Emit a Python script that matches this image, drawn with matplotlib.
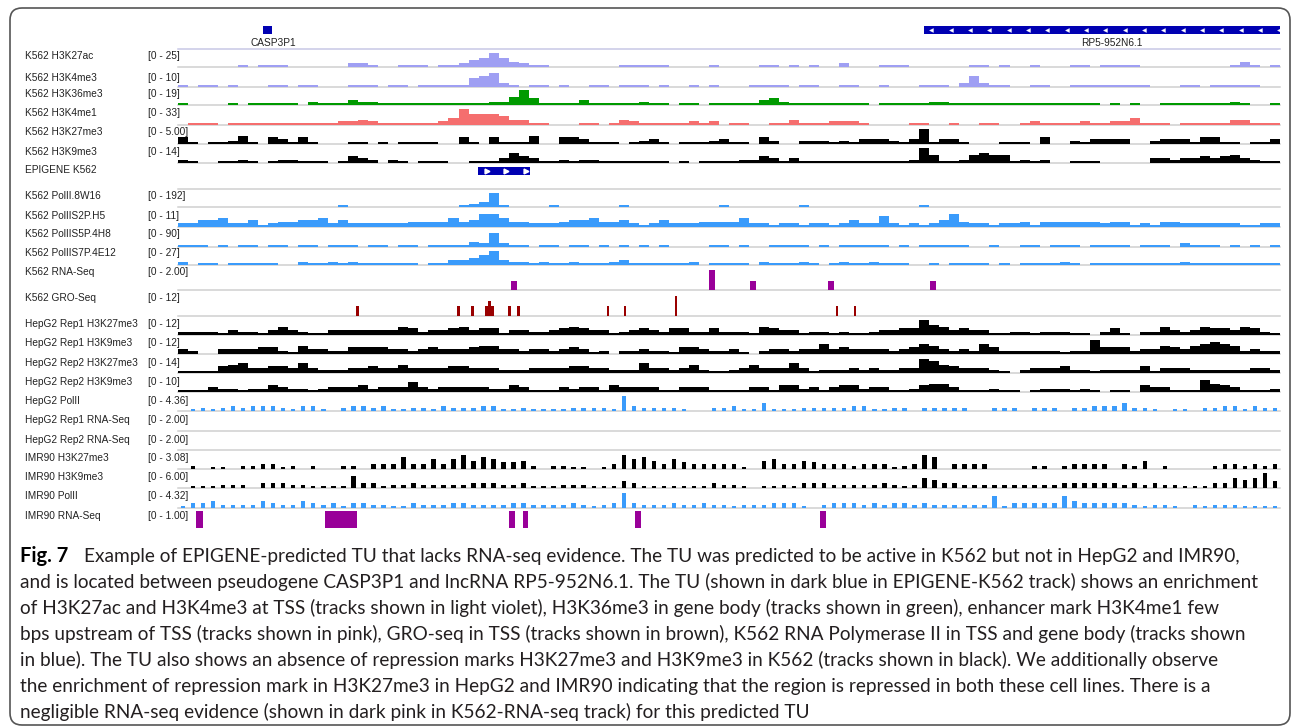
import numpy as np
import matplotlib.pyplot as plt
from matplotlib.patches import FancyBboxPatch, Rectangle

# ---- data -------------------------------------------------------------
# coverage tracks: 110 equal bins across the locus, signal given in tenths
# of each track's data range
n_bins = 110

k562_h3k27ac = [0,0,0,0,0,0,1,0,1,1, 1,0,0,0,0,0,0,2,2,1, 0,0,1,1,1,0,1,1,2,4,
                5,8,5,3,2,1,1,0,0,0, 0,0,0,0,1,1,1,1, 1,0,0,0,0,1,0,0,0,0,
                1,1,0,1,0,1,0,0,2,0, 0,0,1,1,1,0,0,0,0,0, 0,1,1,0,1,0,0,1,0,0,
                0,1,1,0,1,1,1,1,0,0, 0,0,0,0,0,0,0,1,3,1,0,1]
k562_h3k4me3 = [1,0,1,1,0,1,0,0,0,1, 1,0,1,1,0,0,0,1,1,1, 0,1,1,0,1,1,1,1,1,5,
                6,8,2,1,0,1,1,0,1,0, 0,1,1,0,1,1,1,0, 1,0,0,1,0,1,0,0,0,1,
                1,1,1,0,1,1,0,0,1,1, 0,0,1,0,0,0,1,1,1,0, 2,6,2,1,1,0,0,1,1,0,
                0,1,1,1,1,1,1,1,1,0, 0,0,1,1,0,1,1,1,1,1,0,0]
k562_h3k36me3 = [1,0,0,0,0,1,0,1,1,1, 1,1,0,2,1,1,1,3,2,2, 1,1,1,1,1,1,1,1,1,1,
                 1,2,2,5,9,4,1,1,1,1, 3,1,1,1,1,1,2,1, 1,0,1,1,0,1,1,1,1,1,
                 3,4,2,1,1,1,1,1,1,1, 1,0,1,1,1,1,1,2,2,1, 1,1,1,1,1,1,1,1,1,1,
                 1,1,1,1,0,1,0,1,0,0, 1,1,1,1,1,1,1,2,1,0,0,1]
k562_h3k4me1 = [0,1,1,1,0,1,1,1,1,1, 1,1,1,1,1,1,2,2,3,2, 1,1,1,1,1,1,2,4,9,6,
                6,6,5,3,3,1,1,0,0,0, 1,1,0,1,3,2,1,1, 1,1,1,2,1,2,0,1,1,0,
                0,1,1,3,1,1,1,2,2,2, 1,0,0,0,0,1,1,0,0,1, 0,0,1,1,0,0,1,2,1,1,
                1,1,2,1,1,2,2,4,1,1, 1,0,1,1,1,1,1,3,3,1,1,1]
k562_h3k27me3 = [4,1,0,1,1,2,5,1,0,4, 3,1,4,1,0,0,0,1,1,0, 1,0,1,1,1,1,0,0,4,1,
                 0,4,1,1,1,5,0,0,4,4, 3,1,1,1,0,1,2,3, 1,0,1,1,1,2,3,1,1,0,
                 4,2,0,0,2,2,2,1,2,1, 3,3,3,2,1,3,9,1,3,3, 1,0,0,0,1,1,1,0,4,0,
                 0,2,1,3,3,3,3,0,0,2, 3,3,3,1,4,4,1,1,0,1,1,3]
k562_h3k9me3 = [2,1,0,0,1,1,2,1,0,1, 2,2,1,1,1,0,1,4,3,2, 0,2,1,0,1,1,1,0,0,1,
                1,1,3,6,4,3,1,1,2,1, 2,2,1,1,1,1,1,1, 1,0,1,0,1,1,1,1,2,2,
                4,3,1,3,1,1,1,1,1,1, 1,1,1,1,1,2,9,5,1,1, 2,5,6,5,5,1,2,1,2,0,
                0,1,1,1,0,0,0,0,0,3, 3,2,3,3,4,3,4,5,3,2,1,1]
k562_polii_8w16 = [0,0,0,0,0,0,0,0,0,0, 0,0,0,0,0,0,1,0,0,0, 0,0,0,0,0,0,0,0,1,2,
                   3,8,1,0,0,0,0,1,0,0, 0,0,0,0,1,0,0,0, 0,0,0,0,0,0,1,0,0,0,
                   0,0,0,0,1,0,0,0,0,0, 0,0,0,0,0,0,1,0,0,0, 0,0,0,0,0,0,0,0,0,0,
                   0,0,0,0,0,0,0,0,0,0, 0,0,0,0,0,0,0,0,0,0,0,0]
k562_polii_s2p = [2,2,4,4,5,2,2,4,1,2, 3,3,4,4,5,2,4,2,2,2, 2,2,2,3,3,3,3,5,3,4,
                  7,7,5,3,3,2,2,2,3,4, 4,5,3,3,4,2,1,2, 4,2,2,2,3,3,3,3,5,2,
                  2,1,2,2,1,2,2,1,2,4, 2,2,6,2,1,2,1,2,4,7, 3,2,2,1,2,2,3,1,3,3,
                  3,3,3,3,2,3,3,1,2,1, 3,3,2,2,2,2,2,2,1,1,2,2]
k562_polii_s5p = [1,1,1,0,1,0,1,1,0,1, 1,0,1,1,0,1,1,1,0,1, 1,0,1,1,0,1,1,1,1,3,
                  2,8,2,1,1,0,1,1,0,1, 1,0,1,0,1,0,1,0, 1,0,0,0,0,1,1,0,1,0,
                  0,1,1,1,1,0,1,0,1,1, 1,1,1,0,1,0,1,1,1,1, 1,0,0,1,0,0,1,1,0,1,
                  1,1,0,1,1,1,1,0,1,1, 1,0,2,1,1,1,0,1,0,1,0,1]
k562_polii_s7p = [2,0,1,1,0,1,1,1,1,1, 0,0,2,1,1,2,1,2,1,1, 1,1,1,1,0,1,1,3,3,4,
                  6,8,3,2,2,1,2,1,1,2, 1,1,1,2,3,1,1,1, 1,1,1,2,0,1,1,1,1,0,
                  2,1,1,1,2,1,0,1,2,1, 1,2,1,1,1,0,0,1,0,1, 1,1,1,0,1,0,1,1,1,1,
                  2,1,0,1,1,1,1,1,1,1, 1,1,2,1,1,1,1,1,1,1,1,1]
hepg2_r1_h3k27me3 = [2,2,2,2,1,3,2,2,1,3, 5,3,2,1,1,3,3,3,3,3, 3,3,5,4,2,3,3,4,5,3,
                     4,4,1,3,3,2,2,3,4,5, 4,3,3,1,2,3,4,3, 2,4,4,2,2,4,2,2,2,1,
                     5,4,3,3,1,2,2,1,2,1, 1,2,3,3,4,4,9,6,5,3, 4,3,3,1,1,2,2,1,2,2,
                     2,1,1,0,2,4,1,0,2,2, 5,3,2,3,5,4,4,3,5,4,2,1]
hepg2_r1_h3k9me3 = [3,2,0,0,3,3,3,3,4,4, 2,1,5,3,3,2,2,4,4,4, 4,3,3,2,3,4,3,3,3,4,
                    5,5,3,3,2,3,3,2,3,4, 3,1,2,0,2,2,3,2, 2,1,4,4,3,2,2,3,1,0,
                    2,3,3,2,3,3,6,3,4,3, 3,3,3,2,3,4,6,5,3,2, 3,2,6,4,2,2,2,2,2,2,
                    1,2,2,8,4,4,4,2,3,3, 5,4,3,5,6,7,6,5,2,3,2,2]
hepg2_r2_h3k27me3 = [1,1,1,1,4,5,6,3,3,4, 4,3,6,3,2,2,2,3,3,4, 3,3,5,3,3,3,3,4,4,3,
                     3,3,2,2,2,3,3,3,3,4, 4,3,3,2,2,2,6,3, 3,2,3,5,2,1,1,2,3,5,
                     3,3,3,6,3,1,2,2,2,3, 2,3,2,2,3,3,8,7,5,4, 3,3,3,2,1,0,2,3,3,3,
                     4,2,2,1,2,2,2,2,4,1, 3,3,3,2,2,2,2,2,2,3,3,2]
hepg2_r2_h3k9me3 = [1,1,1,3,2,2,1,2,2,4, 3,2,2,1,2,3,3,3,4,2, 3,3,3,6,3,2,3,3,3,3,
                    3,2,2,4,3,1,1,1,3,2, 3,3,1,4,3,3,3,3, 1,1,3,3,3,1,1,1,1,3,
                    3,1,4,4,2,3,1,3,4,4, 2,3,3,1,1,2,4,5,5,3, 1,1,1,2,1,1,0,1,2,2,
                    2,1,2,1,0,1,1,0,4,3, 3,1,1,1,7,5,4,3,1,1,1,2]
hepg2_polii = [0,1,2,1,2,3,2,3,3,3, 2,1,3,3,1,0,2,3,3,2, 3,1,1,2,2,1,3,2,2,2,
               3,3,1,1,2,1,1,1,1,2, 2,2,2,1,9,3,2,2, 2,2,1,0,0,2,2,3,1,1,
               5,1,1,1,2,2,2,2,2,3, 3,1,1,2,2,0,2,2,2,2, 2,0,0,2,2,2,0,2,2,2,
               0,2,2,3,3,3,5,2,2,1, 0,1,1,0,2,2,3,3,1,3,2,2]
hepg2_r1_rnaseq = [0] * n_bins
hepg2_r2_rnaseq = [0] * n_bins
imr90_h3k27me3 = [0,2,0,1,1,0,2,2,3,3, 1,2,0,2,0,0,2,2,0,3, 3,3,7,3,3,6,3,6,8,5,
                  7,6,4,4,5,2,0,2,2,1, 1,0,1,3,8,6,7,5, 3,6,4,3,3,3,3,3,1,0,
                  5,6,3,3,5,4,3,3,3,2, 3,3,3,1,2,3,8,7,0,3, 3,3,3,0,0,0,0,2,2,0,
                  2,3,3,3,3,0,3,2,5,0, 2,0,0,0,0,2,3,3,2,3,2,3]
imr90_h3k9me3 = [0,1,1,1,2,2,2,0,3,3, 3,2,2,1,1,1,1,7,3,3, 1,2,2,3,2,2,2,2,2,3,
                 3,3,2,2,3,1,1,1,2,2, 2,1,1,1,4,3,1,1, 1,1,1,1,1,3,2,2,1,0,
                 1,1,2,1,3,3,3,2,2,2, 2,2,3,2,1,2,6,5,3,3, 2,2,2,2,2,2,2,2,2,2,
                 3,3,3,3,3,3,2,3,2,3, 2,2,1,1,1,3,3,6,5,6,9,4]
imr90_polii = [1,3,3,4,2,2,2,2,4,3, 2,2,4,3,2,3,1,3,3,2, 2,1,1,3,2,2,2,3,3,2,
               2,2,2,3,3,2,2,2,2,3, 2,1,2,3,9,3,2,2, 2,3,2,2,3,2,2,1,2,2,
               2,3,3,3,1,0,2,3,3,3, 2,3,2,3,3,2,3,2,2,2, 2,2,2,7,1,3,3,3,3,3,
               7,4,3,3,3,3,3,2,1,2, 2,1,0,2,1,2,2,2,1,1,1,1]

# sparse tracks, positions in bin units
k562_rnaseq_pos = [33.5, 53.3, 57.4, 65.2, 75.4]
k562_rnaseq_val = [0.78, 1.74, 0.78, 0.78, 0.78]
k562_groseq_pos = [17.9, 28.0, 29.4, 30.8, 31.1, 31.4, 33.1, 34.0, 42.9, 44.6, 49.7, 65.8, 67.6]
k562_groseq_val = [5.2, 5.2, 5.2, 5.2, 7.8, 5.2, 5.2, 5.2, 5.2, 5.2, 10.4, 5.2, 5.2]
imr90_rnaseq_start = [1.8, 14.7, 33.0, 34.4, 45.6, 64.1]
imr90_rnaseq_end = [2.5, 17.9, 33.6, 34.9, 46.2, 64.7]

gene_names = ['CASP3P1', 'RP5-952N6.1']
gene_start = [8.5, 74.5]
gene_end = [9.4, 110.0]
epigene_start, epigene_end = 29.9, 35.1

track_names = ['K562 H3K27ac', 'K562 H3K4me3', 'K562 H3K36me3', 'K562 H3K4me1',
               'K562 H3K27me3', 'K562 H3K9me3', 'K562 PolII.8W16', 'K562 PolIIS2P.H5',
               'K562 PolIIS5P.4H8', 'K562 PolIIS7P.4E12', 'K562 RNA-Seq', 'K562 GRO-Seq',
               'HepG2 Rep1 H3K27me3', 'HepG2 Rep1 H3K9me3', 'HepG2 Rep2 H3K27me3',
               'HepG2 Rep2 H3K9me3', 'HepG2 PolII', 'HepG2 Rep1 RNA-Seq', 'HepG2 Rep2 RNA-Seq',
               'IMR90 H3K27me3', 'IMR90 H3K9me3', 'IMR90 PolII', 'IMR90 RNA-Seq']
track_max = [25, 10, 19, 33, 5.00, 14, 192, 11, 90, 27, 2.00, 12,
             12, 12, 14, 10, 4.36, 2.00, 2.00, 3.08, 6.00, 4.32, 1.00]
track_range = ['[0 - 25]', '[0 - 10]', '[0 - 19]', '[0 - 33]', '[0 - 5.00]', '[0 - 14]',
               '[0 - 192]', '[0 - 11]', '[0 - 90]', '[0 - 27]', '[0 - 2.00]', '[0 - 12]',
               '[0 - 12]', '[0 - 12]', '[0 - 14]', '[0 - 10]', '[0 - 4.36]', '[0 - 2.00]',
               '[0 - 2.00]', '[0 - 3.08]', '[0 - 6.00]', '[0 - 4.32]', '[0 - 1.00]']
coverage = [k562_h3k27ac, k562_h3k4me3, k562_h3k36me3, k562_h3k4me1, k562_h3k27me3,
            k562_h3k9me3, k562_polii_8w16, k562_polii_s2p, k562_polii_s5p, k562_polii_s7p,
            None, None, hepg2_r1_h3k27me3, hepg2_r1_h3k9me3, hepg2_r2_h3k27me3,
            hepg2_r2_h3k9me3, hepg2_polii, hepg2_r1_rnaseq, hepg2_r2_rnaseq,
            imr90_h3k27me3, imr90_h3k9me3, imr90_polii, None]

caption = [
    'Example of EPIGENE-predicted TU that lacks RNA-seq evidence. The TU was predicted to be active in K562 but not in HepG2 and IMR90,',
    'and is located between pseudogene CASP3P1 and lncRNA RP5-952N6.1. The TU (shown in dark blue in EPIGENE-K562 track) shows an enrichment',
    'of H3K27ac and H3K4me3 at TSS (tracks shown in light violet), H3K36me3 in gene body (tracks shown in green), enhancer mark H3K4me1 few',
    'bps upstream of TSS (tracks shown in pink), GRO-seq in TSS (tracks shown in brown), K562 RNA Polymerase II in TSS and gene body (tracks shown',
    'in blue). The TU also shows an absence of repression marks H3K27me3 and H3K9me3 in K562 (tracks shown in black). We additionally observe',
    'the enrichment of repression mark in H3K27me3 in HepG2 and IMR90 indicating that the region is repressed in both these cell lines. There is a',
    'negligible RNA-seq evidence (shown in dark pink in K562-RNA-seq track) for this predicted TU',
]

# ---- styling / layout -------------------------------------------------
LAV, GRN, PNK, BLK, BLU = '#9f9ff3', '#009a00', '#f56e6e', '#000000', '#3a9bfb'
PUR, RED, GENE = '#990099', '#990000', '#0000b2'
track_color = [LAV, LAV, GRN, PNK, BLK, BLK, BLU, BLU, BLU, BLU, PUR, RED,
               BLK, BLK, BLK, BLK, BLU, BLU, BLU, BLK, BLK, BLU, PUR]
spiky = {'HepG2 PolII', 'IMR90 H3K27me3', 'IMR90 H3K9me3', 'IMR90 PolII'}
track_top = [49, 69, 88, 107, 127, 146, 190, 209, 229, 248, 267, 293,
             318, 337, 356, 375, 394, 414, 433, 452, 471, 491, 511]
track_bottom = [67, 87, 105, 125, 144, 163, 207, 227, 247, 265, 290, 316,
                335, 354, 373, 392, 411, 431, 450, 469, 488, 508, 528]
label_y = [56, 78, 94, 113, 132, 152, 196, 216, 234, 253, 272, 298,
           324, 343, 363, 382, 401, 420, 440, 458, 477, 496, 516]

W, H = 1293, 726
X0, X1 = 178, 1280
fig = plt.figure(figsize=(W / 100, H / 100), dpi=100)

bg = fig.add_axes([0, 0, 1, 1], zorder=-1)
bg.set_xlim(0, W)
bg.set_ylim(H, 0)
bg.axis('off')
bg.add_patch(FancyBboxPatch((10, 8), 1280, 717, boxstyle='round,pad=0,rounding_size=12',
                            fc='white', ec='#555555', lw=1.2))

lab_font = dict(family=['Liberation Sans', 'DejaVu Sans'], fontsize=7.3, color='#222222')


def track_ax(top, bottom):
    ax = fig.add_axes([X0 / W, 1 - bottom / H, (X1 - X0) / W, (bottom - top) / H])
    ax.set_xlim(0, n_bins)
    ax.axis('off')
    return ax


edges = np.arange(n_bins + 1)
for i, name in enumerate(track_names):
    ax = track_ax(track_top[i], track_bottom[i])
    vmax = track_max[i]
    ax.set_ylim(0, vmax)
    col = track_color[i]
    if name != 'IMR90 RNA-Seq':
        ax.axhline(0, color='#d0d0d0', lw=1.1, zorder=0, clip_on=False)
    vals = coverage[i]
    if vals is not None:
        v = np.array(vals) / 10 * vmax
        if name in spiky:
            ax.bar(edges[:-1] + 0.5, v, width=0.45, color=col, lw=0)
        else:
            ax.fill_between(edges, np.append(v, v[-1]), step='post', color=col, lw=0)
    elif name == 'K562 RNA-Seq':
        ax.bar(k562_rnaseq_pos, k562_rnaseq_val, width=0.6, color=col, lw=0)
    elif name == 'K562 GRO-Seq':
        ax.bar(k562_groseq_pos, k562_groseq_val, width=0.25, color=col, lw=0)
    elif name == 'IMR90 RNA-Seq':
        for s, e in zip(imr90_rnaseq_start, imr90_rnaseq_end):
            ax.bar(s, vmax, width=e - s, align='edge', color=col, lw=0)
    bg.text(25, label_y[i], name, va='center', ha='left', **lab_font)
    bg.text(148, label_y[i], track_range[i], va='center', ha='left', **lab_font)
    if i == 0:
        ax.axhline(vmax, color='#c8c8e6', lw=1.1, clip_on=False)
    if name == 'K562 PolII.8W16':
        ax.axhline(vmax * 1.05, color='#d0d0d0', lw=1.1, clip_on=False)

# gene annotation track
gax = track_ax(22, 38)
gax.set_ylim(0, 1)
for nm, s, e in zip(gene_names, gene_start, gene_end):
    gax.add_patch(Rectangle((s, 0.25), e - s, 0.5, color=GENE, lw=0))
    gax.text((s + e) / 2 + (1.0 if nm == 'RP5-952N6.1' else 0.6), -0.3, nm, ha='center',
             va='center', clip_on=False, **lab_font)
marks = np.arange(gene_start[1] + 0.7, gene_end[1], 1.93)
gax.plot(marks, np.full(len(marks), 0.5), ls='none', marker='<', ms=2.8, color='white',
         mec='white', mew=0.3)

# EPIGENE K562 prediction
eax = track_ax(163, 179)
eax.set_ylim(0, 1)
eax.add_patch(Rectangle((epigene_start, 0.25), epigene_end - epigene_start, 0.5,
                        color=GENE, lw=0))
emarks = np.arange(epigene_start + 0.9, epigene_end, 1.95)
eax.plot(emarks, np.full(len(emarks), 0.5), ls='none', marker='>', ms=3.5, color='white')
bg.text(25, label_y[5] + 18, 'EPIGENE K562', va='center', ha='left', **lab_font)

# caption
cap_font = ['Lato', 'DejaVu Sans']
fig.canvas.draw()
rend = fig.canvas.get_renderer()
probe = bg.text(0, 0, caption[1], fontsize=10, family=cap_font)
fs = 10 * 1238 / probe.get_window_extent(rend).width
probe.remove()
base_y = [562, 588, 614, 640, 666, 692, 718]
bg.text(20.5, base_y[0], 'Fig. 7', fontsize=fs * 1.06, family=cap_font, fontweight='bold',
        color='black', va='baseline')
for k, line in enumerate(caption):
    x = 84 if k == 0 else 20.5
    bg.text(x, base_y[k], line, fontsize=fs, family=cap_font, color='#231f20', va='baseline')

fig.savefig('out.png', dpi=100)
